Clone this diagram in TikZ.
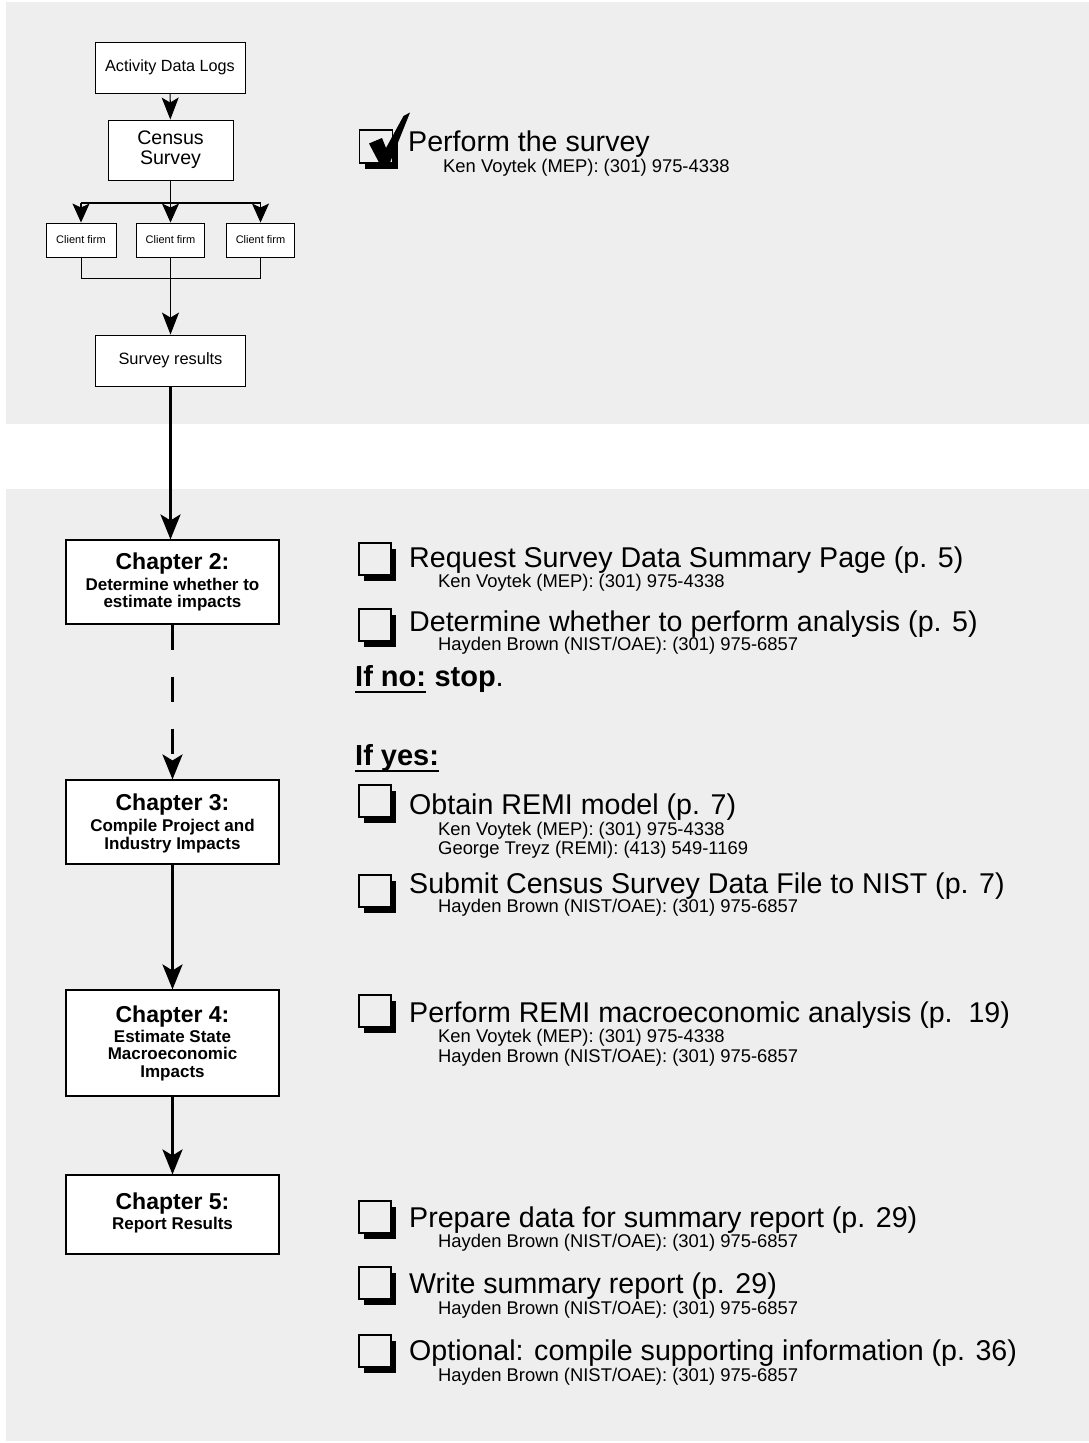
\documentclass[tikz,border=0pt]{standalone}
\usepackage{fontspec}
\setmainfont{Liberation Sans}
\usetikzlibrary{arrows.meta,shadows}
\definecolor{panel}{RGB}{238,238,238}
\newcommand\fsz[2]{\fontsize{#1}{#2}\selectfont}
\begin{document}
\begin{tikzpicture}[x=1pt,y=-1pt,
  flowbox/.style={draw=black, line width=0.9pt, fill=white, inner sep=0pt, align=center},
  chapbox/.style={draw=black, line width=1.1pt, fill=white, minimum width=213pt, inner sep=0pt},
  txt/.style={inner sep=0pt, anchor=base west},
  itemtext/.style={txt, font=\fsz{28.6}{30}},
  contact/.style={txt, font=\fsz{18.4}{20}},
  heading/.style={txt, font=\bfseries\fsz{29}{30}},
  chtitle/.style={inner sep=0pt, anchor=base, font=\bfseries\fsz{23}{24}},
  chline/.style={inner sep=0pt, anchor=base, font=\bfseries\fsz{17}{18}},
  tickbox/.style={draw=black, line width=1.6pt, fill=panel, minimum width=32pt,
    minimum height=32pt, inner sep=0pt,
    drop shadow={shadow xshift=5pt, shadow yshift=-6pt, fill=black, opacity=1}},
  flowarrow/.style={line width=1.1pt, -{Stealth[length=22pt,width=17pt,inset=5pt]}},
  brancharrow/.style={line width=1.1pt, -{Stealth[length=19pt,width=17pt,inset=4pt]}},
  mainarrow/.style={line width=3pt, -{Stealth[length=25pt,width=20pt,inset=6pt]}}
]
\useasboundingbox (0,0) rectangle (1089,1443);

% background panels
\fill[panel] (6,2) rectangle (1089,424);
\fill[panel] (6,489) rectangle (1089,1441);

% ---- survey flow ----
\node[flowbox, minimum width=150pt, minimum height=51pt, font=\fsz{16.2}{18}] (adl) at (170,67.5) {Activity Data Logs};
\node[flowbox, minimum width=125pt, minimum height=60pt, font=\fsz{19.6}{20}] (census) at (170.5,150) {Census\\Survey};
\node[flowbox, minimum width=70pt, minimum height=34pt, font=\fsz{11}{12}] (cf1) at (81,240) {Client firm};
\node[flowbox, minimum width=68pt, minimum height=34pt, font=\fsz{11}{12}] (cf2) at (170.5,240) {Client firm};
\node[flowbox, minimum width=68pt, minimum height=34pt, font=\fsz{11}{12}] (cf3) at (260.5,240) {Client firm};
\node[flowbox, minimum width=150pt, minimum height=51pt, font=\fsz{16.4}{18}] (sr) at (170.5,360.5) {Survey results};

\draw[flowarrow] (adl) -- (census);
\coordinate (split) at (170.5,203);
\draw[line width=1.4pt] (census) -- (split);
\draw[line width=1.1pt] (cf1.north |- split) -- (cf3.north |- split);
\foreach \c in {cf1,cf2,cf3} \draw[brancharrow] (\c.north |- split) -- (\c.north);
\coordinate (merge) at (170.5,278);
\draw[line width=1pt] (cf1.south) -- (cf1.south |- merge) -- (cf3.south |- merge) -- (cf3.south);
\draw[line width=1pt] (cf2.south) -- (merge);
\draw[flowarrow] (merge) -- (sr.north);

% ---- chapter boxes ----
\node[chapbox, minimum height=84pt] (ch2) at (172.5,582) {};
\node[chapbox, minimum height=84pt] (ch3) at (172.5,822) {};
\node[chapbox, minimum height=106pt] (ch4) at (172.5,1043) {};
\node[chapbox, minimum height=79pt] (ch5) at (172.5,1214.5) {};

\node[chtitle] (ch2t) at (172.5,569) {Chapter 2:};
\node[chline] (ch2a) at (172.5,590) {Determine whether to};
\node[chline] (ch2b) at (172.5,607) {estimate impacts};

\node[chtitle] (ch3t) at (172.5,810) {Chapter 3:};
\node[chline] (ch3a) at (172.5,831) {Compile Project and};
\node[chline] (ch3b) at (172.5,849) {Industry Impacts};

\node[chtitle] (ch4t) at (172.5,1022) {Chapter 4:};
\node[chline] (ch4a) at (172.5,1042) {Estimate State};
\node[chline] (ch4b) at (172.5,1059) {Macroeconomic};
\node[chline] (ch4c) at (172.5,1077) {Impacts};

\node[chtitle] (ch5t) at (172.5,1209) {Chapter 5:};
\node[chline] (ch5a) at (172.5,1229) {Report Results};

\draw[mainarrow] (sr.south) -- (sr.south |- ch2.north);
\draw[mainarrow, dash pattern=on 25pt off 27pt] (ch2) -- (ch3);
\draw[mainarrow] (ch3) -- (ch4);
\draw[mainarrow] (ch4) -- (ch5);

% ---- checklist ----
\node[tickbox, minimum width=33pt, minimum height=33pt] (tb0) at (376,146.5) {};
\fill (369,143.5) -- (382,138) -- (386,148) -- (403.5,116) -- (410,112.5) -- (390,162.5) -- (379,162.5) -- cycle;
\node[itemtext] (i0) at (408,151) {Perform the survey};
\node[contact] (c0) at (443,172) {Ken Voytek (MEP): (301) 975-4338};

\node[tickbox] (tb1) at (375,559) {};
\node[itemtext] (i1) at (409,567) {Request Survey Data Summary Page (p. 5)};
\node[contact] (c1) at (438,587) {Ken Voytek (MEP): (301) 975-4338};

\node[tickbox] (tb2) at (375,625) {};
\node[itemtext] (i2) at (409,631) {Determine whether to perform analysis (p. 5)};
\node[contact] (c2) at (438,650) {Hayden Brown (NIST/OAE): (301) 975-6857};

\node[heading] (ifno) at (355,686) {If no:};
\node[heading] (stop) at (ifno.base east) {\ stop{\mdseries.}};
\draw[line width=2pt] ([yshift=-6pt]ifno.base west) -- ([yshift=-6pt]ifno.base east);

\node[heading] (ifyes) at (355,765) {If yes:};
\draw[line width=2pt] ([yshift=-6pt]ifyes.base west) -- ([yshift=-6pt]ifyes.base east);

\node[tickbox] (tb3) at (375,801) {};
\node[itemtext] (i3) at (409,814) {Obtain REMI model (p. 7)};
\node[contact] (c3a) at (438,835) {Ken Voytek (MEP): (301) 975-4338};
\node[contact] (c3b) at (438,854) {George Treyz (REMI): (413) 549-1169};

\node[tickbox] (tb4) at (375,891) {};
\node[itemtext] (i4) at (409,893) {Submit Census Survey Data File to NIST (p. 7)};
\node[contact] (c4) at (438,912) {Hayden Brown (NIST/OAE): (301) 975-6857};

\node[tickbox] (tb5) at (375,1011) {};
\node[itemtext] (i5) at (409,1022) {Perform REMI macroeconomic analysis (p.\ \ 19)};
\node[contact] (c5a) at (438,1042) {Ken Voytek (MEP): (301) 975-4338};
\node[contact] (c5b) at (438,1062) {Hayden Brown (NIST/OAE): (301) 975-6857};

\node[tickbox] (tb6) at (375,1217) {};
\node[itemtext] (i6) at (409,1227) {Prepare data for summary report (p. 29)};
\node[contact] (c6) at (438,1247) {Hayden Brown (NIST/OAE): (301) 975-6857};

\node[tickbox] (tb7) at (375,1283) {};
\node[itemtext] (i7) at (409,1293) {Write summary report (p. 29)};
\node[contact] (c7) at (438,1314) {Hayden Brown (NIST/OAE): (301) 975-6857};

\node[tickbox] (tb8) at (375,1351) {};
\node[itemtext] (i8) at (409,1360) {Optional: compile supporting information (p. 36)};
\node[contact] (c8) at (438,1381) {Hayden Brown (NIST/OAE): (301) 975-6857};
\end{tikzpicture}
\end{document}
